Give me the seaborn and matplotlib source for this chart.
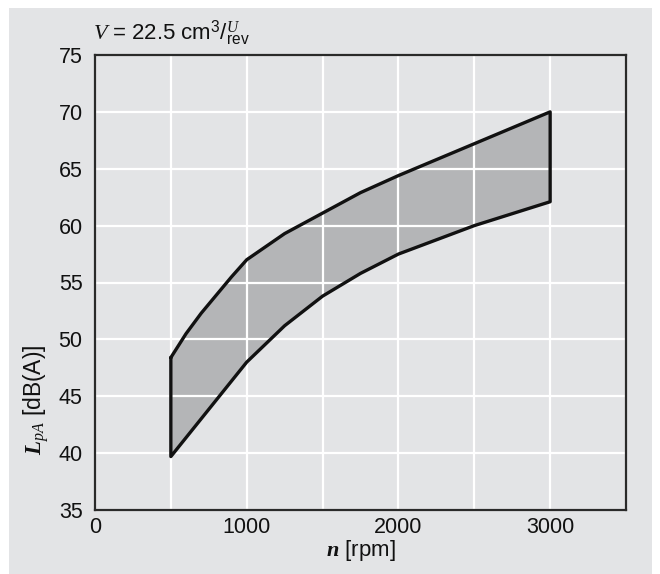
import numpy as np
import pandas as pd
import matplotlib
matplotlib.use("Agg")
import matplotlib.pyplot as plt
import seaborn as sns
from matplotlib.patches import Rectangle

# ---- data ----
n_upper = [500, 600, 700, 800, 900, 1000, 1250, 1500, 1750, 2000, 2500, 3000]
lpa_upper = [48.4, 50.5, 52.3, 53.9, 55.5, 57.0, 59.3, 61.1, 62.9, 64.4, 67.2, 70.0]
n_lower = [500, 1000, 1250, 1500, 1750, 2000, 2500, 3000]
lpa_lower = [39.7, 48.0, 51.2, 53.8, 55.8, 57.5, 60.0, 62.1]
x_ticks = [0, 1000, 2000, 3000]
y_ticks = [35, 40, 45, 50, 55, 60, 65, 70, 75]

BG = "#e3e4e6"
FILL = "#b4b5b7"

sns.set_theme(style="darkgrid")
plt.rcParams["font.family"] = ["Liberation Sans", "DejaVu Sans"]
plt.rcParams["mathtext.fontset"] = "custom"
plt.rcParams["mathtext.rm"] = "Liberation Sans"
plt.rcParams["mathtext.it"] = "Liberation Serif:italic"
plt.rcParams["mathtext.bf"] = "Liberation Serif:italic:bold"

fig = plt.figure(figsize=(6.6, 5.74), dpi=100, facecolor="white")
fig.patches.append(Rectangle((9 / 660, 0), 643 / 660, 566 / 574,
                             transform=fig.transFigure, facecolor=BG,
                             edgecolor="none", zorder=-10))
ax = fig.add_axes([95 / 660, 1 - 510 / 574, 531 / 660, 455 / 574])
ax.set_facecolor(BG)

# polygon: upper curve forward, lower curve back
poly_x = list(n_upper) + list(n_lower[::-1]) + [n_upper[0]]
poly_y = list(lpa_upper) + list(lpa_lower[::-1]) + [lpa_upper[0]]
df = pd.DataFrame({"n": poly_x, "L": poly_y})

ax.fill(df["n"], df["L"], color=FILL, zorder=1, lw=0)
sns.lineplot(data=df, x="n", y="L", sort=False, estimator=None, ax=ax,
             color="#111111", lw=2.4, zorder=4)

ax.set_xlim(0, 3500)
ax.set_ylim(35, 75)
ax.set_xticks(x_ticks)
ax.set_yticks(y_ticks)
ax.set_xticks([500, 1500, 2500, 3500], minor=True)
ax.set_axisbelow(False)
ax.grid(True, which="both", color="white", lw=1.6, zorder=2)
ax.tick_params(axis="both", which="both", length=0, labelsize=15.5,
               colors="#111111")
ax.tick_params(axis="y", pad=9)
ax.tick_params(axis="x", pad=5)

for s in ax.spines.values():
    s.set_visible(True)
    s.set_color("#2a2a2a")
    s.set_linewidth(1.6)
    s.set_zorder(5)

ax.set_xlabel(r"$\mathbf{n}$ [rpm]", fontsize=16, color="#111111")
ax.xaxis.set_label_coords(0.5, -0.062)
ax.set_ylabel(r"$\mathbf{L}_{\mathit{pA}}$ [dB(A)]", fontsize=16.5, color="#111111")
ax.yaxis.set_label_coords(-0.082, 0.242)

fig.text(93 / 660, 1 - 33 / 574, r"$V\,=\,$22.5 cm$^3$/$^{U}_{\mathrm{rev}}$",
         fontsize=16, color="#111111", ha="left", va="center")

fig.savefig("out.png", dpi=100, facecolor="white")
